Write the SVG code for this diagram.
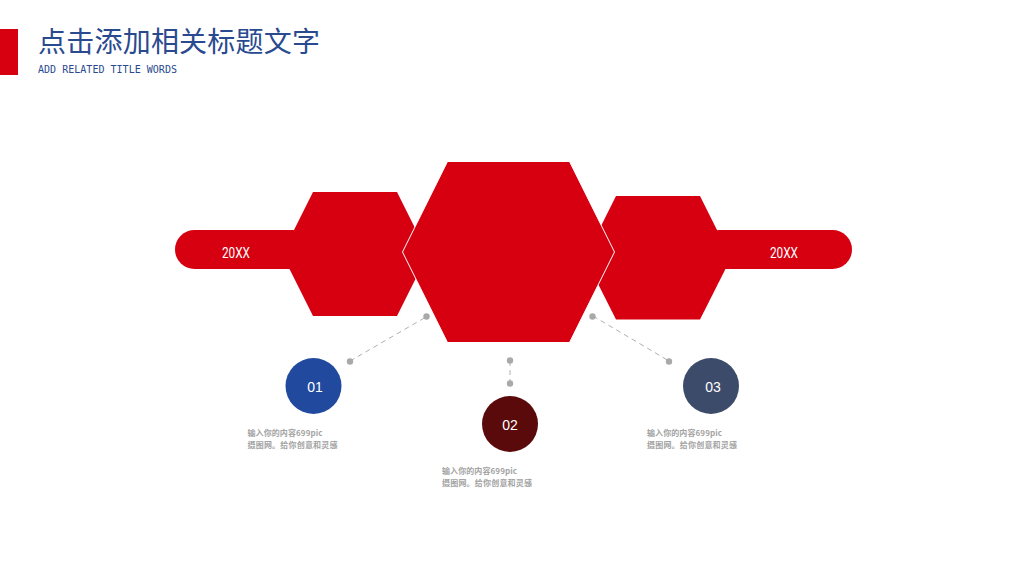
<svg xmlns="http://www.w3.org/2000/svg" width="1024" height="575" viewBox="0 0 1024 575">
<style>
.red{fill:#d60010}
.lat{font-family:"Roboto","Liberation Sans",sans-serif;font-size:14px;fill:#fff;text-anchor:middle}
.num{font-family:"Liberation Sans",sans-serif;font-size:14px;fill:#fff;text-anchor:middle}
.desc{font-family:"Noto Sans CJK SC","Liberation Sans",sans-serif;font-size:8px;font-weight:700;fill:#a3a3a3}
.dot{fill:#a9a9a9}
.dash{stroke:#b0b0b0;stroke-width:1;stroke-dasharray:5 4;fill:none}
</style>
<rect width="1024" height="575" fill="#fff"/>
<g id="header">
<rect class="red" x="0" y="29" width="18" height="46"/>
<text x="38" y="52" font-family="'Noto Sans CJK SC',sans-serif" font-size="28" fill="#2a4a8f" textLength="282">点击添加相关标题文字</text>
<text x="38" y="73" font-family="'DejaVu Sans Mono',monospace" font-size="11" fill="#2a4a8f" textLength="139" lengthAdjust="spacingAndGlyphs">ADD RELATED TITLE WORDS</text>
</g>
<g id="node-left">
<rect class="red" x="175" y="230" width="140" height="39" rx="19.5"/>
<polygon class="red" points="313,192 397,192 428,254 397,316 313,316 282,254"/>
<text class="lat" x="236" y="258" textLength="28" lengthAdjust="spacingAndGlyphs">20XX</text>
</g>
<g id="node-right">
<rect class="red" x="700" y="230" width="152" height="39" rx="19.5"/>
<polygon class="red" points="616,196 700,196 731,258 700,319.500 616,319.500 585,258"/>
<text class="lat" x="784" y="258" textLength="28" lengthAdjust="spacingAndGlyphs">20XX</text>
</g>
<g id="node-center">
<polygon class="red" stroke="#fff" stroke-width="1" points="447.500,161.500 569.500,161.500 614.500,252 569.500,342.500 447.500,342.500 402.500,252"/>
</g>
<g id="connectors">
<line class="dash" x1="350" y1="361" x2="426" y2="317"/>
<circle class="dot" cx="350" cy="361.500" r="3.200"/>
<circle class="dot" cx="426.500" cy="316.500" r="3.200"/>
<line class="dash" x1="510" y1="361" x2="510" y2="384"/>
<circle class="dot" cx="510" cy="360.500" r="3.200"/>
<circle class="dot" cx="510" cy="383.500" r="3.200"/>
<line class="dash" x1="593" y1="316" x2="669" y2="361"/>
<circle class="dot" cx="592.500" cy="316.500" r="3.200"/>
<circle class="dot" cx="669" cy="361.500" r="3.200"/>
</g>
<g id="node-01">
<circle cx="313.500" cy="386" r="28" fill="#214a9f"/>
<text class="num" x="315" y="392">01</text>
<text class="desc" x="247.500" y="436" textLength="75">输入你的内容699pic</text>
<text class="desc" x="247.500" y="448" textLength="90">摄图网。给你创意和灵感</text>
</g>
<g id="node-02">
<circle cx="510" cy="424" r="28" fill="#5a0a0a"/>
<text class="num" x="510" y="430">02</text>
<text class="desc" x="442" y="474" textLength="75">输入你的内容699pic</text>
<text class="desc" x="442" y="486" textLength="90">摄图网。给你创意和灵感</text>
</g>
<g id="node-03">
<circle cx="711" cy="386" r="28" fill="#3d4b6b"/>
<text class="num" x="713" y="392">03</text>
<text class="desc" x="647" y="436" textLength="75">输入你的内容699pic</text>
<text class="desc" x="647" y="448" textLength="90">摄图网。给你创意和灵感</text>
</g>
</svg>
